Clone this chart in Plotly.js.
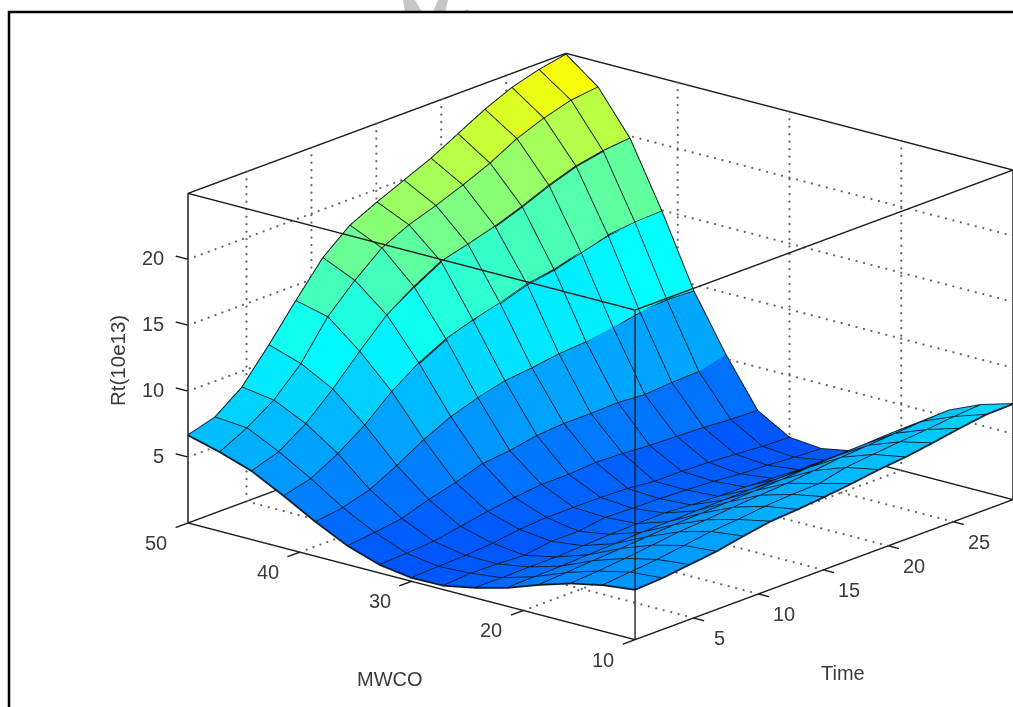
<!DOCTYPE html>
<html><head><meta charset="utf-8">
<script src="https://cdn.plot.ly/plotly-3.0.1.min.js"></script>
<style>html,body{margin:0;padding:0;background:#fff;overflow:hidden}#c{width:1013px;height:707px}</style>
</head><body><div id="c"></div>
<script>
const mwcoValues=[50,47.14,44.29,41.43,38.57,35.71,32.86,30,27.14,24.29,21.43,18.57,15.71,12.86,10];
const timeValues=[0.5,2.58,4.66,6.74,8.81,10.89,12.97,15.05,17.13,19.21,21.29,23.36,25.44,27.52,29.6];
const z00=[6.65,7.25,8.76,11.2,13.8,16.3,18.0,19.0,19.9,20.8,21.9,23.0,23.9,24.5,24.9];
const z01=[6.0,7.05,8.4,10.4,13.2,15.2,16.9,17.9,18.6,19.4,20.3,21.4,22.2,22.8,23.05];
const z02=[5.19,5.87,7.23,9.1,11.2,13.2,14.6,15.76,16.3,16.9,17.65,18.5,19.2,19.6,19.8];
const z03=[3.94,4.46,5.6,7.0,8.78,10.2,11.26,11.94,12.47,13.15,13.5,14.06,14.6,14.8,14.9];
const z04=[2.6,2.9,3.5,4.56,5.77,6.75,7.43,7.96,8.19,8.49,8.64,9.02,9.4,9.55,9.47];
const z05=[1.42,1.65,1.95,2.63,3.16,3.84,4.06,4.44,4.6,4.6,4.67,4.52,4.67,4.74,5.3];
const z06=[.62,.7,.85,1.22,1.6,1.9,2.13,2.13,2.28,2.2,2.05,1.98,1.9,1.75,1.68];
const z07=[.26,.34,.42,.57,.87,1.02,1.02,1.02,.94,.72,.72,.64,.5,.34,.27];
const z08=[.3,.45,.4,.3,.6,.6,.9,.83,.8,.7,.6,.4,.3,.15,.05];
const z09=[.77,.75,.8,.8,.9,1.0,1.05,1.1,.95,.85,.8,.7,.6,.55,.5];
const z10=[1.4,1.45,1.5,1.6,1.7,1.8,1.85,1.9,1.95,2.0,2.05,2.1,2.15,2.2,2.2];
const z11=[2.26,2.4,2.55,2.7,2.85,3.0,3.1,3.2,3.3,3.4,3.55,3.65,3.75,3.85,3.9];
const z12=[3.0,3.15,3.35,3.6,3.85,4.0,4.2,4.35,4.5,4.7,4.95,5.1,5.25,5.4,5.5];
const z13=[3.5,3.7,3.9,4.2,4.5,4.66,4.9,5.04,5.1,5.57,5.8,6.0,6.17,6.4,6.55];
const z14=[3.78,3.9,4.15,4.4,4.8,5.16,5.3,5.5,5.74,6.04,6.24,6.55,6.9,7.2,7.25];
const zRows=[z00,z01,z02,z03,z04,z05,z06,z07,z08,z09,z10,z11,z12,z13,z14];
const zTicks=[5,10,15,20], timeTicks=[5,10,15,20,25], mwcoTicks=[10,20,30,40,50];
const colorLevels=[0,9.5,23.3,25];
const colorStops=[[0,80,255],[0,255,255],[255,255,0],[255,225,0]];

function colorFor(z){
  let k=0; while(k<colorLevels.length-2&&z>colorLevels[k+1])k++;
  const f=Math.min(1,Math.max(0,(z-colorLevels[k])/(colorLevels[k+1]-colorLevels[k])));
  const c=colorStops[k].map((a,n)=>Math.round(a+(colorStops[k+1][n]-a)*f));
  return `rgb(${c[0]},${c[1]},${c[2]})`;
}
const tMin=timeValues[0],tMax=timeValues[14],mMin=10,mMax=50,zMin=0,zMax=25;
const X=[],Y=[],Z=[],I=[],J=[],K=[],FC=[];
const n=mwcoValues.length,m=timeValues.length,id=(i,j)=>i*m+j;
for(let i=0;i<n;i++)for(let j=0;j<m;j++){X.push(timeValues[j]);Y.push(mwcoValues[i]);Z.push(zRows[i][j]);}
for(let i=0;i<n-1;i++)for(let j=0;j<m-1;j++){
  const col=colorFor(zRows[i+1][j]);
  I.push(id(i,j),id(i,j));J.push(id(i+1,j),id(i+1,j+1));K.push(id(i+1,j+1),id(i,j+1));FC.push(col,col);
}
const surf={type:'mesh3d',x:X,y:Y,z:Z,i:I,j:J,k:K,facecolor:FC,flatshading:true,hoverinfo:'skip',
  lighting:{ambient:1,diffuse:0,specular:0,fresnel:0,roughness:1},showscale:false};
const gx=[],gy=[],gz=[];
for(let i=0;i<n;i++){for(let j=0;j<m;j++){gx.push(timeValues[j]);gy.push(mwcoValues[i]);gz.push(zRows[i][j]);}gx.push(null);gy.push(null);gz.push(null);}
for(let j=0;j<m;j++){for(let i=0;i<n;i++){gx.push(timeValues[j]);gy.push(mwcoValues[i]);gz.push(zRows[i][j]);}gx.push(null);gy.push(null);gz.push(null);}
const grid={type:'scatter3d',mode:'lines',x:gx,y:gy,z:gz,line:{color:'#0d1a28',width:3.6},hoverinfo:'skip',showlegend:false};
// dotted wall grids: one small dot every few pixels along each tick line
const dx=[],dy=[],dz=[];
function dotted(a,b,count){for(let q=0;q<=count;q++){const f=q/count;dx.push(a[0]+(b[0]-a[0])*f);dy.push(a[1]+(b[1]-a[1])*f);dz.push(a[2]+(b[2]-a[2])*f);}}
zTicks.forEach(v=>{dotted([tMax,mMin,v],[tMax,mMax,v],60);dotted([tMin,mMax,v],[tMax,mMax,v],55);});
timeTicks.forEach(v=>{dotted([v,mMin,zMin],[v,mMax,zMin],60);dotted([v,mMax,zMin],[v,mMax,zMax],44);});
mwcoTicks.slice(1,4).forEach(v=>{dotted([tMin,v,zMin],[tMax,v,zMin],55);dotted([tMax,v,zMin],[tMax,v,zMax],44);});
const dots={type:'scatter3d',mode:'markers',x:dx,y:dy,z:dz,marker:{color:'#666',size:1.3,line:{width:0}},hoverinfo:'skip',showlegend:false};
// box and tick marks
const bx=[],by=[],bz=[];
function bseg(a,b){bx.push(a[0],b[0],null);by.push(a[1],b[1],null);bz.push(a[2],b[2],null);}
[[tMin,mMin],[tMax,mMin],[tMin,mMax],[tMax,mMax]].forEach(p=>bseg([p[0],p[1],zMin],[p[0],p[1],zMax]));
[zMin,zMax].forEach(h=>{bseg([tMin,mMin,h],[tMax,mMin,h]);bseg([tMin,mMax,h],[tMax,mMax,h]);bseg([tMin,mMin,h],[tMin,mMax,h]);bseg([tMax,mMin,h],[tMax,mMax,h]);});
mwcoTicks.forEach(v=>bseg([tMin,v,zMin],[tMin-0.95,v,zMin]));
timeTicks.forEach(v=>bseg([v,mMin,zMin],[v,mMin-0.95,zMin]));
zTicks.forEach(v=>bseg([tMin,mMax,v],[tMin,mMax+1.1,v]));
const box={type:'scatter3d',mode:'lines',x:bx,y:by,z:bz,line:{color:'#1c1c1c',width:2.8},hoverinfo:'skip',showlegend:false};

// scene: the axis ranges leave a little room round the box for the tick marks
const rT=[tMin-1.2,tMax+0.1],rM=[mMin-1.2,mMax+1.4],rZ=[zMin-0.1,zMax+0.1];
const uT=1.663/(tMax-tMin),uM=1.651/(mMax-mMin),uZ=.981/(zMax-zMin);
const S=353.5, dist=3;
const dir=[-.728,-.611,.311], right=[.6428,-.766,0], up=[.2385,.2,.9503];
const boxC=[((tMin+tMax)-(rT[0]+rT[1]))/2*uT,((mMin+mMax)-(rM[0]+rM[1]))/2*uM,((zMin+zMax)-(rZ[0]+rZ[1]))/2*uZ];
const c=[0,1,2].map(q=>boxC[q]+(-94/S)*right[q]+(-7/S)*up[q]);
const eye=[0,1,2].map(q=>c[q]+dir[q]*dist);
const fam='"Liberation Sans",Arial,sans-serif';
function ax(range){return {range:range,showticklabels:false,ticks:'',title:{text:''},showgrid:false,zeroline:false,showbackground:false,showspikes:false,showline:false};}
const tf={family:fam,size:20,color:'#3a3a3a'};
const tickAnn=[
 ...mwcoTicks.map(v=>({x:tMin,y:v,z:zMin,text:String(v),showarrow:false,font:tf,xshift:-32,yshift:-20})),
 ...timeTicks.map(v=>({x:v,y:mMin,z:zMin,text:String(v),showarrow:false,font:tf,xshift:26,yshift:-20})),
 ...zTicks.map(v=>({x:tMin,y:mMax,z:v,text:String(v),showarrow:false,font:tf,xanchor:'right',xshift:-22,yshift:1}))];
const ann=(t,x,y,rot,sz)=>({text:t,xref:'paper',yref:'paper',x:x/1013,y:1-y/707,showarrow:false,xanchor:'center',yanchor:'middle',textangle:rot||0,font:{family:fam,size:sz||20,color:'#3a3a3a'}});
const px=(x,y)=>`${x/1013} ${1-y/707}`;
const wm=(pts)=>({type:'path',xref:'paper',yref:'paper',layer:'below',path:'M '+pts.map(p=>px(p[0],p[1])).join(' L ')+' Z',fillcolor:'#c6c6c6',line:{width:0}});
const layout={width:1013,height:707,margin:{l:0,r:0,t:0,b:0,pad:0},paper_bgcolor:'#fff',showlegend:false,
 scene:{domain:{x:[0,1],y:[0,1]},aspectmode:'manual',
  aspectratio:{x:uT*(rT[1]-rT[0]),y:uM*(rM[1]-rM[0]),z:uZ*(rZ[1]-rZ[0])},
  xaxis:ax(rT),yaxis:ax(rM),zaxis:ax(rZ),annotations:tickAnn,
  camera:{projection:{type:'orthographic'},up:{x:0,y:0,z:1},center:{x:c[0],y:c[1],z:c[2]},eye:{x:eye[0],y:eye[1],z:eye[2]}}},
 annotations:[ann('MWCO',390,679),ann('Time',843,673),ann('Rt(10e13)',117,361,-90,20.5)],
 shapes:[
  wm([[403,0],[415,0],[422,12],[405,12]]),wm([[438,0],[448,0],[445,12],[433,12]]),wm([[462,12],[468,9],[468,12]]),
  {type:'path',xref:'paper',yref:'paper',path:'M '+px(9,707)+' L '+px(9,12)+' L '+px(1013,12),line:{color:'#000',width:2.5}}]
};
Plotly.newPlot('c',[surf,dots,box,grid],layout,{displayModeBar:false,responsive:false});
</script></body></html>
